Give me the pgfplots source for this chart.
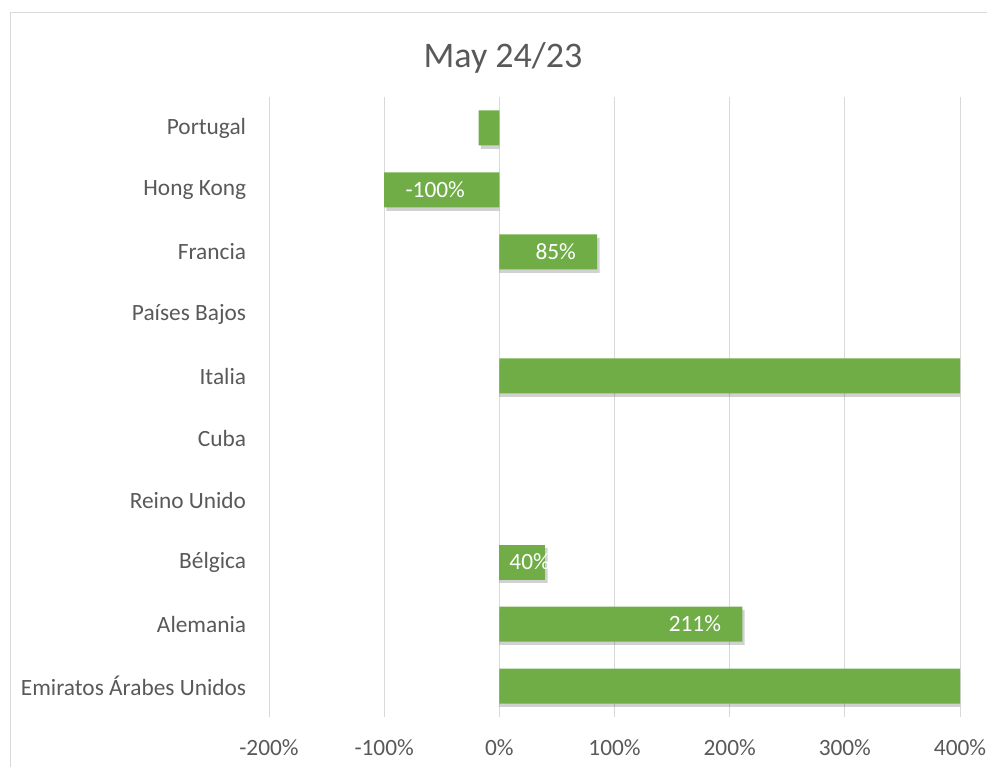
\documentclass[border=0pt]{standalone}
\usepackage{fontspec}
\setmainfont{Carlito}
\usepackage{pgfplots}
\pgfplotsset{compat=1.18}

\definecolor{barGreen}{HTML}{70AD47}
\definecolor{txtGray}{HTML}{595959}
\definecolor{gridGray}{HTML}{D9D9D9}

\pgfplotsset{
  greenbar/.style={xbar, bar shift=0pt, fill=barGreen, draw=none},
  shadowbar/.style={xbar, bar shift=-2.5pt, fill=black, fill opacity=0.18, draw=none, forget plot},
  lbl/.style={point meta=explicit symbolic, nodes near coords,
    every node near coord/.append style={font=\fontsize{17.5}{21}\selectfont, text=white, #1}},
}

\begin{document}
\begin{tikzpicture}
\path[use as bounding box] (0,0) rectangle (740.25pt,575.25pt);
% chart area border (cropped on right/bottom)
\draw[gridGray, line width=0.75pt] (7.5pt,0) -- (7.5pt,565.5pt) -- (740.25pt,565.5pt);
\node[anchor=base, text=txtGray, font=\fontsize{27}{32}\selectfont]
  at (377.25pt,524.25pt) {May 24/23};

\begin{axis}[
  at={(201.75pt,37.5pt)}, anchor=south west,
  scale only axis, width=518.25pt, height=465pt,
  xmin=-200, xmax=400, ymin=-0.5, ymax=9.5,
  axis x line=bottom, axis y line=left,
  axis line style={draw=none},
  xtick={-200,-100,...,400},
  xticklabels={-200\%,-100\%,0\%,100\%,200\%,300\%,400\%},
  ytick={0,...,9},
  yticklabels={Emiratos Árabes Unidos,Alemania,Bélgica,Reino Unido,Cuba,Italia,Países Bajos,Francia,Hong Kong,Portugal},
  major tick length=0pt,
  xmajorgrids, ymajorgrids=false,
  grid style={gridGray, line width=0.75pt},
  tick label style={font=\fontsize{17.5}{21}\selectfont, text=txtGray},
  xticklabel style={anchor=base, yshift=-28.5pt},
  yticklabel style={anchor=east, inner sep=0pt, xshift=-17pt},
  bar width=26.25pt,
]
% soft shadows under the bars
\addplot[shadowbar] table {
x y
87 7
42 2
213 1
500 5
500 0
};
\addplot[shadowbar] table {
x y
-16 9
-98 8
};
% positive bars, label inside the end
\addplot[greenbar, lbl={anchor=east, xshift=-12.5pt}] table[meta=l] {
x y l
85 7 85\%
211 1 211\%
};
% short bar: label starts at the base and runs out of the bar
\addplot[greenbar, lbl={anchor=west, xshift=-30.5pt}] table[meta=l] {
x y l
40 2 40\%
};
% negative bars, label inside the end
\addplot[greenbar, lbl={anchor=west, xshift=12.5pt}] table[meta=l] {
x y l
-18 9 -18\%
-100 8 -100\%
};
% bars running past the axis end
\addplot[greenbar] table {
x y
500 5
500 0
};
\end{axis}
\end{tikzpicture}
\end{document}
